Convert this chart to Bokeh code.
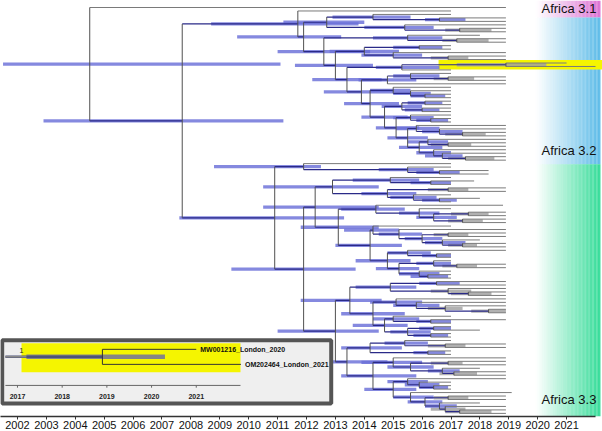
import re
from bokeh.plotting import figure
from bokeh.models import Range1d, FixedTicker, ColumnDataSource
from bokeh.embed import file_html
from bokeh.resources import INLINE
from bokeh.core.properties import value

# ---------------- data ----------------
YEARS = list(range(2002, 2022))

# Tree written as nested "(children)age:hpd_lo:hpd_hi", tips given by sampling date
# Africa 3.2 side clades
S2 = "((2017.0,(2018.9,2018.9)2016.6:2016.1:2017.5)2014.3:2012.9:2015.6,(2018.9,(2018.9,2018.9)2017.3:2016.8:2018.4)2015.4:2014.0:2016.4)2012.7:2011.2:2014.0"
S3 = "(2018.0,(2018.9,2018.9)2017.2:2016.7:2018.3)2015.5:2014.3:2016.7"
S4 = "((2017.0,2017.0)2015.9:2015.0:2016.7,(2018.9,(2018.9,2018.9)2016.9:2016.3:2017.6)2015.0:2013.9:2016.0)2014.0:2012.8:2015.2"
S5 = "((2021.0,2022.0)2018.9:2017.2:2020.3,2017.0)2015.3:2014.4:2016.6"
S6 = "((2017.0,(2018.9,2018.9)2016.9:2016.4:2017.8)2015.6:2015.0:2016.6,2018.9)2014.8:2013.8:2015.8"
S7 = "(2017.0,(2017.0,(2017.0,2017.0)2016.1:2015.6:2016.8)2015.6:2015.0:2016.3)2015.0:2014.2:2015.6"
S8 = "((2017.0,2017.0)2016.1:2015.5:2016.7,(2017.0,2017.0)2016.0:2015.4:2016.6)2015.3:2014.6:2016.0"
S9 = "(2017.0,(2017.0,2017.0)2016.3:2015.8:2016.9)2015.6:2015.0:2016.4"
S10 = "(2018.9,(2018.9,(2018.9,2018.9)2017.4:2016.8:2018.2)2016.6:2016.0:2017.4)2015.8:2015.1:2016.6"
S11 = "(2018.9,(2018.9,2018.9)2016.9:2016.3:2017.7)2016.2:2015.5:2016.9"
N12 = "(2018.9,(2018.9,(2018.9,2018.9)2017.5:2016.9:2018.5)2016.7:2016.1:2017.4)2016.4:2015.8:2017.0"
N11 = f"({S11},{N12})2015.9:2015.2:2016.7"
N10 = f"({S10},{N11})2015.5:2014.8:2016.2"
N9 = f"({S9},{N10})2015.1:2014.4:2015.9"
N8 = f"({S8},{N9})2014.7:2013.9:2015.5"
N7 = f"({S7},{N8})2014.2:2013.3:2015.2"
N6 = f"({S6},{N7})2013.9:2012.6:2015.0"
N5 = f"({S5},{N6})2013.4:2012.2:2014.6"
N4 = f"({S4},{N5})2013.0:2011.6:2014.3"
N3 = f"({S3},{N4})2012.6:2011.0:2014.2"
N2 = f"({S2},{N3})2011.9:2009.6:2013.2"
A32 = f"(2017.0,{N2})2011.7:2008.7:2013.8"

# Africa 3.3
U = "(2017.0,(2017.0,(2018.3,2018.3)2016.6:2015.8:2017.3)2015.5:2014.5:2016.4)2011.9:2008.8:2012.5"
L1a = "((2017.0,(2017.8,2017.0)2016.3:2015.6:2017.0)2014.9:2013.6:2015.9,((2018.9,2018.9)2016.9:2016.2:2017.6,(2017.0,(2018.0,2017.0)2016.6:2016.0:2017.2)2015.7:2014.9:2016.5)2014.8:2013.9:2015.8)2012.9:2010.5:2014.5"
L1b1 = "(2018.8,(2017.0,((2018.9,2018.9)2017.6:2017.0:2018.3,(2018.9,2018.9)2017.4:2016.9:2018.1)2016.4:2015.8:2017.2)2015.9:2015.2:2016.6)2014.4:2013.2:2015.4"
L1b2a = "(2017.0,(2018.9,((2018.9,2018.9)2016.9:2016.4:2017.6,(2018.0,(2018.9,2018.9)2017.4:2016.9:2017.9)2016.7:2016.1:2017.5)2016.0:2015.4:2016.7)2015.2:2014.5:2016.0)2014.3:2013.3:2015.2"
L1b2b = "((2018.9,(2017.0,2017.0)2016.5:2016.0:2017.0)2015.5:2014.8:2016.3,((2017.0,(2018.9,2018.9)2017.2:2016.7:2017.9)2016.4:2015.8:2017.0,(2017.0,(2017.0,2017.0)2016.2:2015.6:2016.9)2015.9:2015.2:2016.6)2015.2:2014.4:2015.9)2014.8:2013.7:2015.6"
L1b2 = f"({L1b2a},{L1b2b})2014.2:2013.0:2015.3"
L1b = f"({L1b1},{L1b2})2013.1:2011.8:2014.5"
L1 = f"({L1a},{L1b})2012.3:2010.5:2014.5"
L2a1 = "((2018.9,2018.9)2016.5:2015.9:2017.3,(2018.9,(2018.9,2018.9)2017.6:2017.0:2018.4)2016.9:2016.3:2017.7)2014.9:2013.7:2015.8"
L2a2x = "(2018.9,(2018.9,(2018.9,(2018.9,2018.9)2018.3:2017.7:2018.9)2016.8:2016.2:2017.4)2015.8:2015.0:2016.6)2015.1:2014.2:2016.0"
L2a2y = "((2017.0,(2018.9,2017.0)2016.3:2015.8:2017.0)2015.0:2014.3:2015.9,((2017.0,2018.0)2016.4:2015.9:2017.0,(2017.0,2017.0)2016.3:2015.7:2016.9)2015.5:2014.9:2016.3)2014.7:2013.6:2015.5"
L2a2 = f"({L2a2x},{L2a2y})2014.3:2013.2:2015.4"
L2a = f"({L2a1},{L2a2})2013.5:2011.8:2014.6"
L2b1 = "((2017.0,(2018.9,2018.9)2016.8:2016.2:2017.5)2015.4:2014.7:2016.2,(2017.0,2017.0)2016.2:2015.7:2016.8)2014.2:2013.2:2015.3"
L2b2a = "(2018.9,((2018.9,2018.9)2016.9:2016.3:2017.4,(2018.0,(2018.9,2018.9)2017.1:2016.6:2017.9)2016.7:2016.2:2017.3)2015.6:2014.8:2016.4)2015.0:2013.9:2016.0"
L2b2b = "((2018.9,(2017.0,(2017.0,2017.0)2016.4:2015.9:2016.9)2015.9:2015.4:2016.6)2015.5:2014.8:2016.2,(2019.1,((2018.9,2018.9)2016.9:2016.4:2017.6,(2018.0,(2018.9,(2018.9,2018.9)2017.3:2016.8:2018.4)2016.8:2016.3:2017.5)2016.6:2016.1:2017.2)2016.1:2015.5:2016.7)2015.6:2015.0:2016.4)2015.0:2014.0:2015.8"
L2b2 = f"({L2b2a},{L2b2b})2014.3:2013.2:2015.8"
L2b = f"({L2b1},{L2b2})2013.4:2012.0:2014.8"
L2 = f"({L2a},{L2b})2013.0:2011.0:2014.5"
L = f"({L1},{L2})2011.9:2009.4:2013.7"
A33 = f"({U},{L})2010.9:2007.6:2013.3"
NODE_A = f"({A32},{A33})2007.7:2002.9:2011.2"
ROOT = f"(2018.9,{NODE_A})2004.5:2001.5:2011.1"

BAND_NAMES = ["Africa 3.1", "Africa 3.2", "Africa 3.3"]
BAND_COLORS = ["#dc6fd2", "#5cbbe8", "#34dc98"]
BAND_ROWS = [(-2.02, 2.9), (2.9, 45.2), (45.2, 117.9)]
BAND_LABEL_ROWS = [0.3, 41.3, 113.0]

INSET_NAMES = ["MW001216_London_2020", "OM202464_London_2021"]
INSET_TICKS = [2017, 2018, 2019, 2020, 2021]
INSET_POSTERIOR = "1"
HIGHLIGHT_FROM = 2016.57

# ---------------- parse & layout ----------------
def parse(s):
    s = re.sub(r"\s+", "", s)
    pos = 0
    num = re.compile(r"[\d.]+")
    trip = re.compile(r"([\d.]+):([\d.]+):([\d.]+)")

    def node():
        nonlocal pos
        if s[pos] == "(":
            pos += 1
            kids = [node()]
            while s[pos] == ",":
                pos += 1
                kids.append(node())
            pos += 1  # ')'
            m = trip.match(s, pos)
            pos = m.end()
            return {"age": float(m[1]), "lo": float(m[2]), "hi": float(m[3]), "kids": kids}
        m = num.match(s, pos)
        pos = m.end()
        return {"age": float(m[0]), "kids": []}
    return node()

root = parse(ROOT)
tips, nodes = [], []

def layout(n, parent=None):
    n["parent"] = parent
    if not n["kids"]:
        n["y"] = float(len(tips))
        tips.append(n)
    else:
        for k in n["kids"]:
            layout(k, n)
        n["y"] = (n["kids"][0]["y"] + n["kids"][-1]["y"]) / 2.0
    nodes.append(n)

layout(root)
internals = [n for n in nodes if n["kids"]]
london = [n for n in internals if all(k["age"] > 2020 for k in n["kids"])][0]

# ---------------- figure ----------------
W, H = 602, 431
p = figure(width=W, height=H, x_range=Range1d(2001.412, 2022.242),
           y_range=Range1d(117.9, -2.02), output_backend="svg",
           toolbar_location=None, y_axis_location=None,
           min_border_left=0, min_border_right=0, min_border_top=0, min_border_bottom=0)
p.grid.visible = False
p.outline_line_color = None
p.background_fill_color = "white"

xa = p.xaxis[0]
xa.ticker = FixedTicker(ticks=YEARS)
xa.bounds = (2001.41, 2022.0)
xa.axis_label = None
xa.axis_label_standoff = 0
xa.major_label_text_font = "Liberation Sans"
xa.major_label_text_font_size = "11px"
xa.major_label_text_color = "#111111"
xa.axis_line_color = "#333333"
xa.axis_line_width = 1.5
xa.major_tick_line_color = "#333333"
xa.major_tick_out = 3
xa.major_tick_in = 0
xa.minor_tick_line_color = None
xa.major_label_standoff = 1

# gradient bands
NSTRIP = 48
bx0, bx1 = 2019.92, 2022.17
ql, qr, qt, qb, qc, qa = [], [], [], [], [], []
for (r0, r1), col in zip(BAND_ROWS, BAND_COLORS):
    for i in range(NSTRIP):
        t = (i + 0.5) / NSTRIP
        ql.append(bx0 + (bx1 - bx0) * i / NSTRIP)
        qr.append(bx0 + (bx1 - bx0) * (i + 1) / NSTRIP + 0.002)
        qt.append(r0)
        qb.append(r1)
        qc.append(col)
        qa.append(t ** 1.1)
p.quad(left="l", right="r", top="t", bottom="b", fill_color="c", fill_alpha="a",
       line_color=None, source=ColumnDataSource(dict(l=ql, r=qr, t=qt, b=qb, c=qc, a=qa)))

# yellow highlight of London clade
ly0 = london["kids"][0]["y"] - 0.85
ly1 = london["kids"][-1]["y"] + 0.85
p.quad(left=[HIGHLIGHT_FROM], right=[2022.242], top=[ly0], bottom=[ly1],
       fill_color="#f5f500", line_color=None)

p.text(x=[2022.03] * 3, y=BAND_LABEL_ROWS, text=BAND_NAMES,
       text_font=value("Liberation Sans"), text_font_size=value("13px"),
       text_align="right", text_baseline="middle", text_color="#111111")

# HPD bars
bl, br, by, bc = [], [], [], []
for n in internals:
    bl.append(n["lo"]); br.append(n["hi"]); by.append(n["y"])
    bc.append("#a0a0a0" if n["age"] >= 2016.8 else "#6a6fd8")
p.hbar(y="y", left="l", right="r", height=0.95, fill_color="c", fill_alpha=0.82,
       line_color=None, source=ColumnDataSource(dict(l=bl, r=br, y=by, c=bc)))

# branches
sx0, sx1, sy0, sy1, sc, sw = [], [], [], [], [], []
for n in nodes:
    if n["parent"] is not None:
        sx0.append(n["parent"]["age"]); sx1.append(n["age"])
        sy0.append(n["y"]); sy1.append(n["y"])
        if n["kids"]:
            sc.append("#2a2a88"); sw.append(1.2)
        else:
            sc.append("#7a7a7a"); sw.append(1.0)
    if n["kids"]:
        sx0.append(n["age"]); sx1.append(n["age"])
        sy0.append(n["kids"][0]["y"]); sy1.append(n["kids"][-1]["y"])
        sc.append("#505050"); sw.append(1.0)
p.segment(x0="x0", y0="y0", x1="x1", y1="y1", line_color="c", line_width="w",
          source=ColumnDataSource(dict(x0=sx0, x1=sx1, y0=sy0, y1=sy1, c=sc, w=sw)))

# ---------------- inset (zoom on the London clade) ----------------
p.extra_x_ranges = {"ix": Range1d(2016.62, 2030.09)}
p.extra_y_ranges = {"iy": Range1d(4.467, -23.2)}
kw = dict(x_range_name="ix", y_range_name="iy")

p.quad(left=[2016.658], right=[2024.02], top=[-0.6], bottom=[3.6],
       fill_color="#efefef", line_color="#555555", line_width=4, **kw)
p.quad(left=[2017.09], right=[2021.99], top=[-0.4], bottom=[1.53],
       fill_color="#f5f500", line_color=None, **kw)

irow = [0.0, 1.0]
imid = 0.5
p.hbar(y=[imid], left=[london["lo"]], right=[london["hi"]], height=0.3,
       fill_color="#858585", line_color=None, **kw)
p.segment(x0=[2016.73], y0=[imid], x1=[london["age"]], y1=[imid],
          line_color="#4d5278", line_width=2.5, **kw)
p.segment(x0=[2016.73], y0=[imid], x1=[london["lo"]], y1=[imid],
          line_color="#8a8a8a", line_width=1.5, **kw)
p.segment(x0=[london["age"]], y0=[irow[0]], x1=[london["age"]], y1=[irow[1]],
          line_color="#333333", line_width=1, **kw)
p.segment(x0=[london["age"]] * 2, y0=irow, x1=[k["age"] for k in london["kids"]], y1=irow,
          line_color="#333333", line_width=1, **kw)
p.text(x=[k["age"] for k in london["kids"]], y=irow, text=INSET_NAMES,
       x_offset=4, text_font=value("Liberation Sans"), text_font_size=value("7px"),
       text_font_style="bold", text_baseline="middle", text_color="#111111", **kw)
p.text(x=[london["lo"]], y=[imid], text=[INSET_POSTERIOR], x_offset=-5, y_offset=-6,
       text_font=value("Liberation Sans"), text_font_size=value("7px"),
       text_align="center", text_baseline="middle", text_color="#222222", **kw)

# inset axis
p.segment(x0=[2016.73], y0=[2.4], x1=[2021.99], y1=[2.4], line_color="#666666",
          line_width=1, **kw)
p.segment(x0=INSET_TICKS, y0=[2.4] * 5, x1=INSET_TICKS, y1=[2.55] * 5,
          line_color="#666666", line_width=1, **kw)
p.text(x=INSET_TICKS, y=[3.15] * 5, text=[str(t) for t in INSET_TICKS],
       text_font=value("Liberation Sans"), text_font_size=value("7px"), text_font_style="bold",
       text_align="center", text_baseline="middle", text_color="#222222", **kw)

open("out.html", "w").write(file_html(p, INLINE))
